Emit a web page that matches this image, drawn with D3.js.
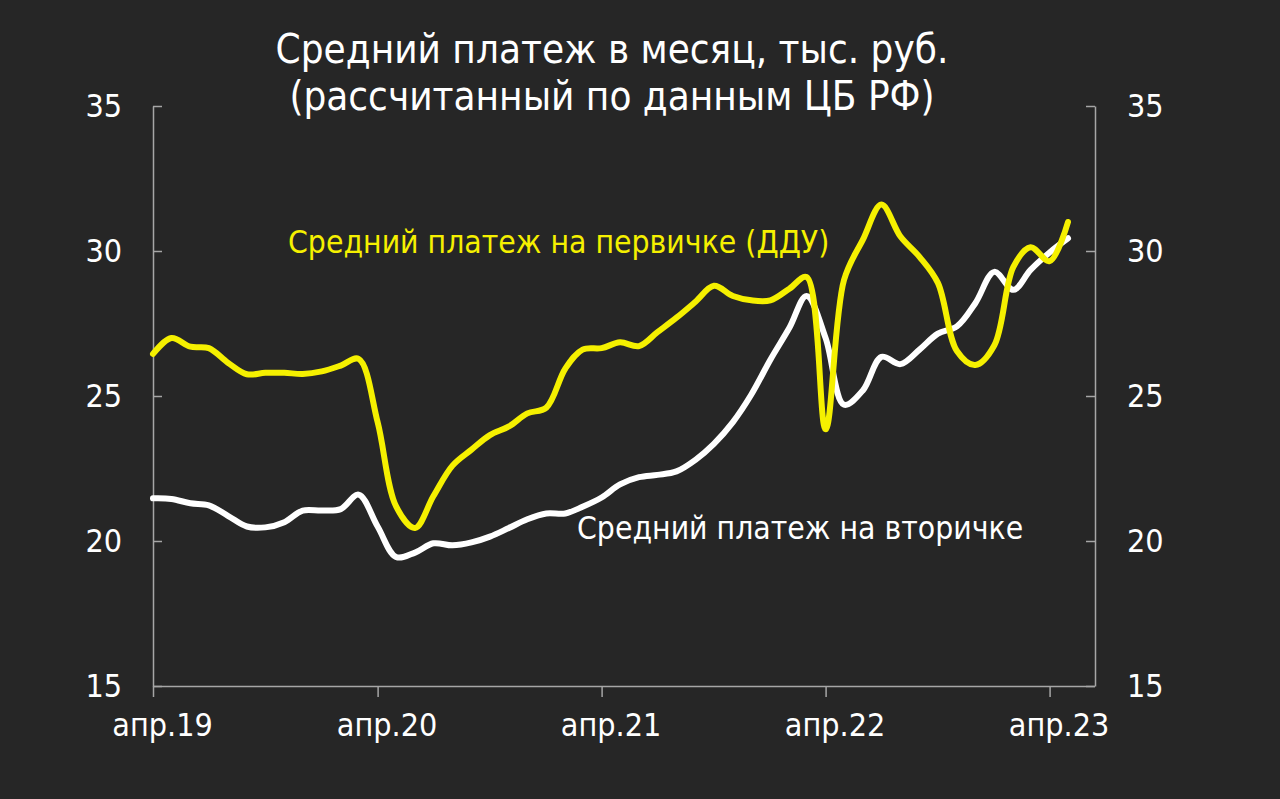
<!DOCTYPE html>
<html>
<head>
<meta charset="utf-8">
<script src="https://cdn.jsdelivr.net/npm/d3@7"></script>
<style>
  html, body { margin: 0; padding: 0; background: #262626; }
  svg { display: block; }
  text { font-family: "DejaVu Sans Condensed", "DejaVu Sans", sans-serif; font-stretch: condensed; }
</style>
</head>
<body>
<svg id="chart" width="1280" height="799"></svg>
<script>
// monthly series, Apr 2019 .. May 2023
const months = d3.range(50).map(i => new Date(2019, 3 + i, 1));

// avg monthly payment on new buildings (DDU), thousand rub
const primary = [
  26.45, 27.0, 26.7, 26.65, 26.15, 25.75, 25.8, 25.8, 25.76, 25.85,
  26.05, 26.28, 24.1, 21.2, 20.45, 21.55, 22.6, 23.15, 23.65, 23.95,
  24.4, 24.6, 25.95, 26.6, 26.65, 26.85, 26.72, 27.2, 27.7, 28.25,
  28.8, 28.45, 28.3, 28.3, 28.7, 29.1, 23.85, 29.0, 30.4, 31.6,
  30.5, 29.8, 28.9, 26.55, 26.07, 26.75, 29.45, 30.13, 29.65, 31.0
];

// avg monthly payment on secondary market
const secondary = [
  21.47, 21.45, 21.3, 21.23, 20.87, 20.5, 20.47, 20.65, 21.05, 21.05,
  21.1, 21.6, 20.5, 19.45, 19.6, 19.92, 19.85, 19.95, 20.15, 20.45,
  20.75, 20.95, 20.95, 21.18, 21.5, 21.95, 22.2, 22.28, 22.4, 22.8,
  23.35, 24.1, 25.05, 26.25, 27.35, 28.45, 27.0, 24.7, 25.2, 26.35,
  26.1, 26.6, 27.15, 27.4, 28.2, 29.28, 28.66, 29.35, 29.95, 30.44
];

const yTicks = [15, 20, 25, 30, 35];
const xTickDates = [2019, 2020, 2021, 2022, 2023].map(y => new Date(y, 3, 1));
const xTickLabels = ["апр.19", "апр.20", "апр.21", "апр.22", "апр.23"];

const titleLines = ["Средний платеж в месяц, тыс. руб.", "(рассчитанный по данным ЦБ РФ)"];

const svg = d3.select("#chart");
const W = 1280, H = 799;
const plotLeft = 153, plotRight = 1095, plotTop = 106, plotBottom = 686;

svg.append("rect").attr("width", W).attr("height", H).attr("fill", "#262626");

const x = d3.scaleTime()
  .domain([months[0], months[months.length - 1]])
  .range([plotLeft, 1068]);

const y = d3.scaleLinear().domain([15, 35]).range([plotBottom, plotTop]);

const axisColor = "#a6a6a6";

// left axis, ticks pointing inside
const gl = svg.append("g")
  .attr("transform", `translate(${plotLeft},0)`)
  .call(d3.axisLeft(y).tickValues(yTicks).tickSize(-9).tickPadding(31).tickSizeOuter(0));

// right axis
const gr = svg.append("g")
  .attr("transform", `translate(${plotRight},0)`)
  .call(d3.axisRight(y).tickValues(yTicks).tickSize(-9).tickPadding(32).tickSizeOuter(0));

// bottom axis
const gb = svg.append("g")
  .attr("transform", `translate(0,${plotBottom})`)
  .call(d3.axisBottom(x).tickValues(xTickDates).tickSize(11).tickPadding(16)
    .tickSizeOuter(0).tickFormat((d, i) => xTickLabels[i]));

// extend bottom axis line to the right axis
gb.select(".domain").attr("d", `M${plotLeft},0.5H${plotRight}`);

[gl, gr, gb].forEach(g => {
  g.selectAll(".domain").attr("stroke", axisColor).attr("stroke-width", 1.5);
  g.selectAll(".tick line").attr("stroke", axisColor).attr("stroke-width", 1.5);
  g.selectAll(".tick text")
    .attr("fill", "#ffffff")
    .style("font-size", "32px")
    .style("font-family", '"DejaVu Sans Condensed", "DejaVu Sans", sans-serif');
});
gb.selectAll(".tick text").attr("dx", 9);

// lines
const line = d3.line()
  .x((d, i) => x(months[i]))
  .y(d => y(d))
  .curve(d3.curveCatmullRom.alpha(0.5));

svg.append("path")
  .datum(secondary)
  .attr("d", line)
  .attr("fill", "none")
  .attr("stroke", "#ffffff")
  .attr("stroke-width", 6)
  .attr("stroke-linejoin", "round")
  .attr("stroke-linecap", "round");

svg.append("path")
  .datum(primary)
  .attr("d", line)
  .attr("fill", "none")
  .attr("stroke", "#f5f000")
  .attr("stroke-width", 6)
  .attr("stroke-linejoin", "round")
  .attr("stroke-linecap", "round");

// title
svg.append("g").selectAll("text")
  .data(titleLines)
  .enter()
  .append("text")
  .attr("x", 612)
  .attr("y", (d, i) => 63 + i * 47)
  .attr("text-anchor", "middle")
  .attr("fill", "#ffffff")
  .style("font-size", "40px")
  .text(d => d);

// series labels
svg.append("text")
  .attr("x", 288).attr("y", 253)
  .attr("fill", "#f5f000")
  .style("font-size", "31.6px")
  .text("Средний платеж на первичке (ДДУ)");

svg.append("text")
  .attr("x", 577).attr("y", 539)
  .attr("fill", "#ffffff")
  .style("font-size", "31.6px")
  .text("Средний платеж на вторичке");
</script>
</body>
</html>
